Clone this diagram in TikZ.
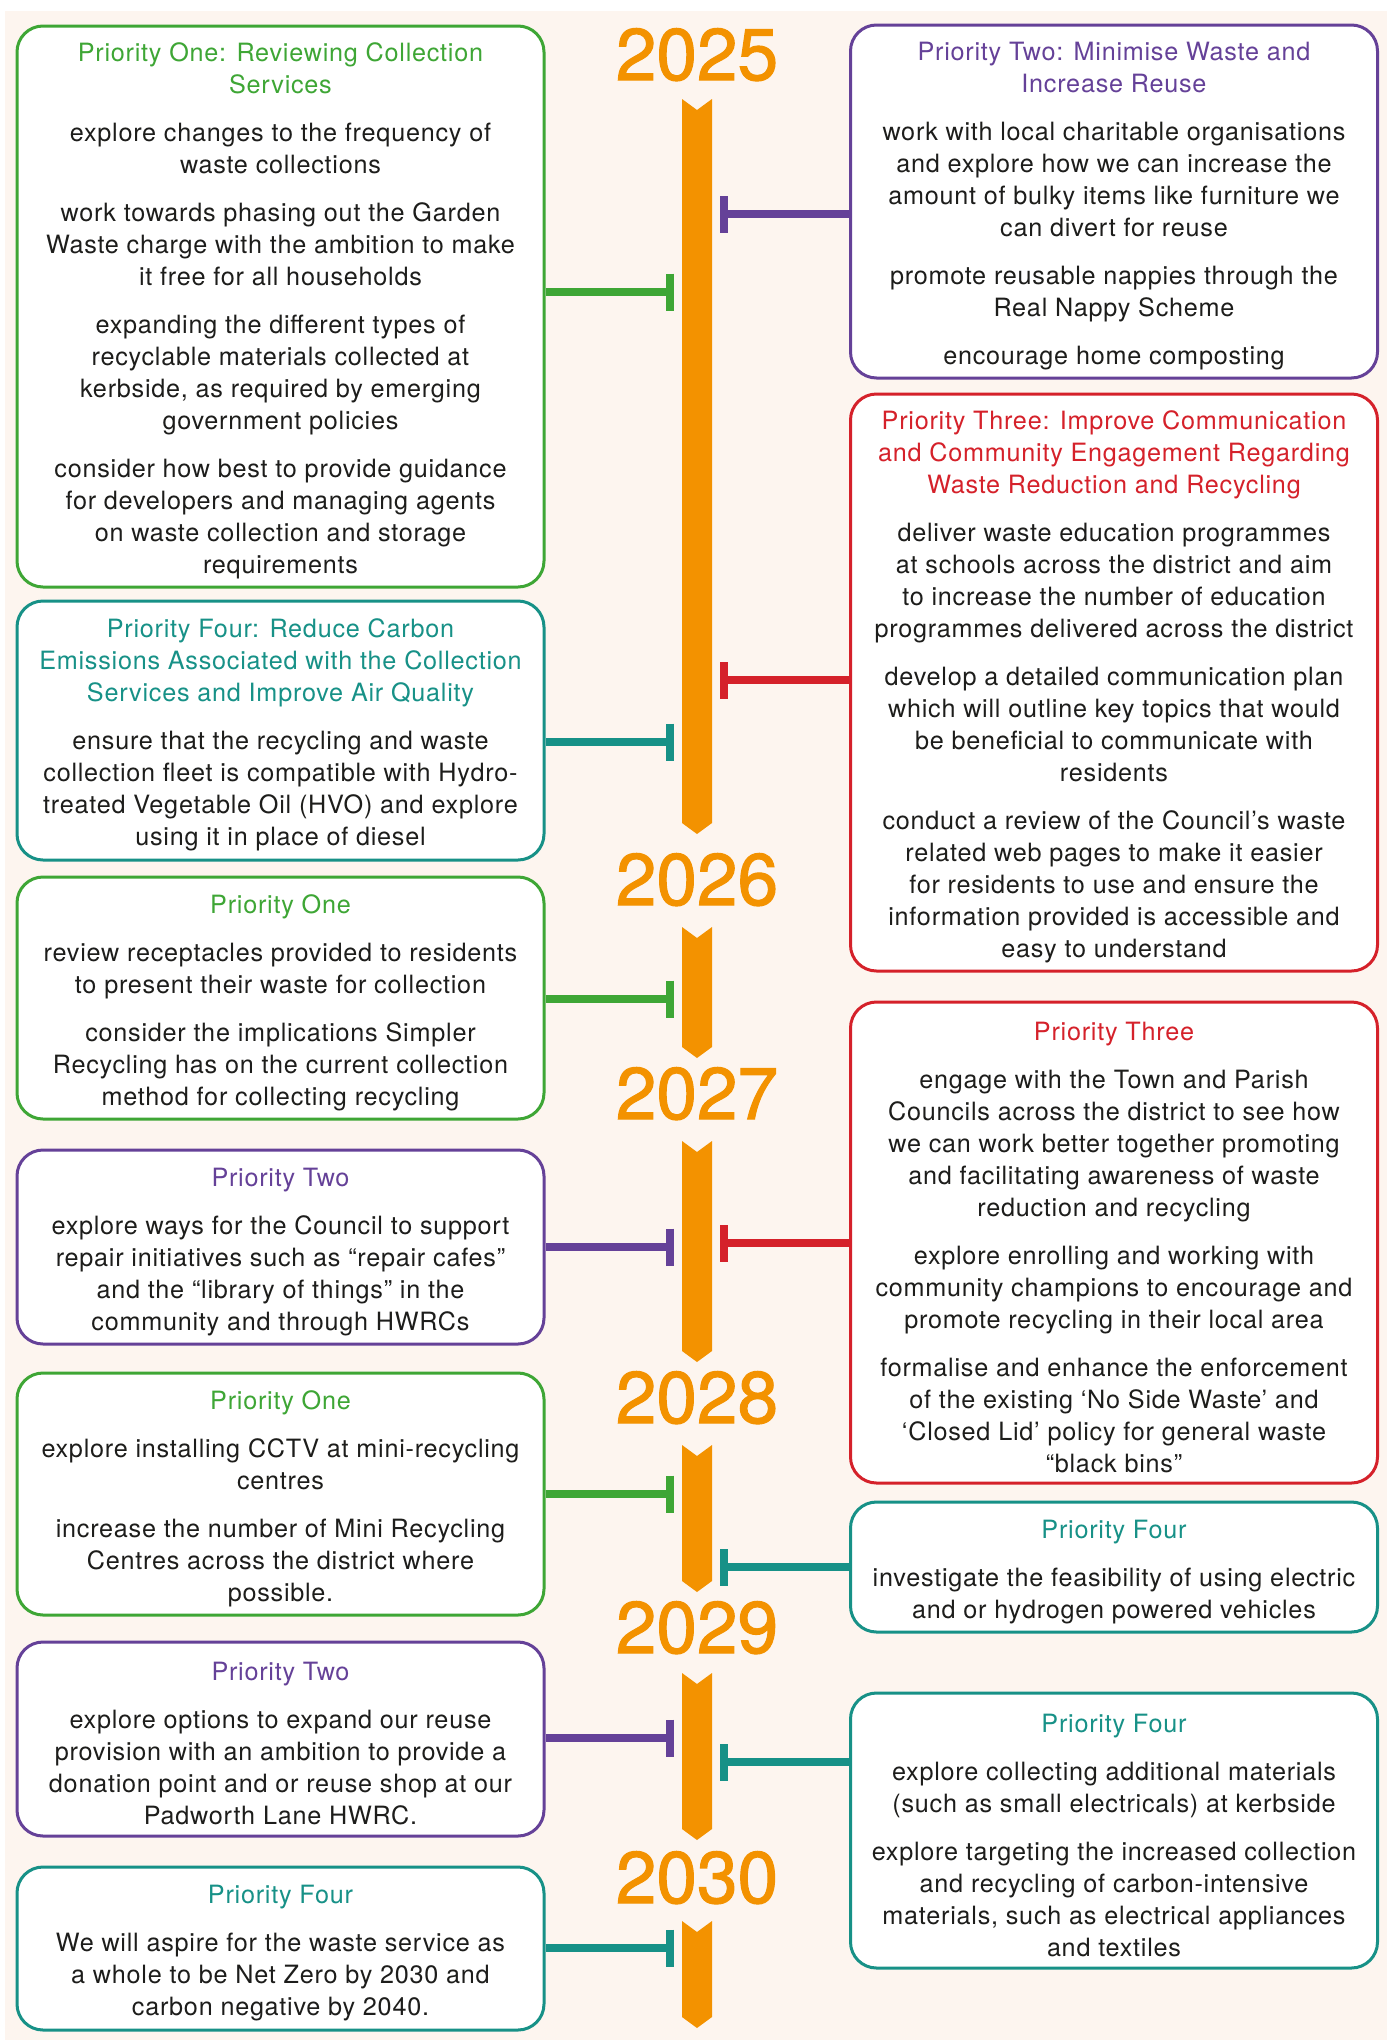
\documentclass[tikz,border=0pt]{standalone}
\usepackage{fontspec}
\setmainfont{TeX Gyre Heros}[LetterSpace=3]
\newfontfamily\yearfont{TeX Gyre Heros}[FakeBold=1.5]
\usetikzlibrary{arrows.meta}

\definecolor{prgreen}{RGB}{62,166,53}
\definecolor{prteal}{RGB}{23,145,135}
\definecolor{prpurple}{RGB}{101,65,152}
\definecolor{prred}{RGB}{213,33,42}
\definecolor{tlorange}{RGB}{243,146,0}
\definecolor{cream}{RGB}{253,245,239}
\definecolor{ink}{RGB}{29,29,27}

% first heading line of a card, with a strut to push the text down a bit
\newcommand{\ttl}[2]{\textcolor{#1}{\rule{0pt}{28pt}#2}}

\tikzset{
	card/.style={draw=#1, line width=3pt, rounded corners=26pt, fill=white, minimum width=527pt, align=center, text=ink, inner sep=0pt, font=\fontsize{25.2}{32}\selectfont},
	link/.style={draw=#1, line width=8pt, -{Bar[width=37pt]}},
	year/.style={text=tlorange, anchor=base, font=\yearfont\fontsize{73}{73}\selectfont},
}

\begin{document}
\begin{tikzpicture}[x=1pt, y=-1pt]
	\useasboundingbox (0,0) rectangle (1391,2040);
	\fill[cream] (5,11) rectangle (1387,2040);

	% timeline
	\fill[tlorange] (682,99) -- (697,110) -- (712,99) -- (712,823) -- (697,834) -- (682,823) -- cycle;
	\fill[tlorange] (682,927) -- (697,938) -- (712,927) -- (712,1047) -- (697,1058) -- (682,1047) -- cycle;
	\fill[tlorange] (682,1141) -- (697,1152) -- (712,1141) -- (712,1351) -- (697,1362) -- (682,1351) -- cycle;
	\fill[tlorange] (682,1445) -- (697,1456) -- (712,1445) -- (712,1581) -- (697,1592) -- (682,1581) -- cycle;
	\fill[tlorange] (682,1673) -- (697,1684) -- (712,1673) -- (712,1829) -- (697,1840) -- (682,1829) -- cycle;
	\fill[tlorange] (682,1921) -- (697,1932) -- (712,1921) -- (712,2017) -- (697,2028) -- (682,2017) -- cycle;

	\node[year] (y25) at (697,80)   {2025};
	\node[year] (y26) at (697,905)  {2026};
	\node[year] (y27) at (697,1119) {2027};
	\node[year] (y28) at (697,1423) {2028};
	\node[year] (y29) at (697,1653) {2029};
	\node[year] (y30) at (697,1903) {2030};

	% left column
	\node[card=prgreen, minimum height=561pt] (g1) at (280.5,306.5) {\ttl{prgreen}{Priority One: Reviewing Collection}\\\textcolor{prgreen}{Services}\\[16pt]
		explore changes to the frequency of\\waste collections\\[16pt]
		work towards phasing out the Garden\\Waste charge with the ambition to make\\it free for all households\\[16pt]
		expanding the different types of\\recyclable materials collected at\\kerbside, as required by emerging\\government policies\\[16pt]
		consider how best to provide guidance\\for developers and managing agents\\on waste collection and storage\\requirements};
	\node[card=prteal, minimum height=259pt] (t1) at (280.5,730.5) {\ttl{prteal}{Priority Four: Reduce Carbon}\\\textcolor{prteal}{Emissions Associated with the Collection}\\\textcolor{prteal}{Services and Improve Air Quality}\\[16pt]
		ensure that the recycling and waste\\collection fleet is compatible with Hydro-\\treated Vegetable Oil (HVO) and explore\\using it in place of diesel};
	\node[card=prgreen, minimum height=242pt] (g2) at (280.5,998) {\ttl{prgreen}{Priority One}\\[16pt]
		review receptacles provided to residents\\to present their waste for collection\\[16pt]
		consider the implications Simpler\\Recycling has on the current collection\\method for collecting recycling};
	\node[card=prpurple, minimum height=194pt] (p2) at (280.5,1247) {\ttl{prpurple}{Priority Two}\\[16pt]
		explore ways for the Council to support\\repair initiatives such as “repair cafes”\\and the “library of things” in the\\community and through HWRCs};
	\node[card=prgreen, minimum height=242pt] (g3) at (280.5,1494) {\ttl{prgreen}{Priority One}\\[16pt]
		explore installing CCTV at mini-recycling\\centres\\[16pt]
		increase the number of Mini Recycling\\Centres across the district where\\possible.};
	\node[card=prpurple, minimum height=194pt] (p3) at (280.5,1739) {\ttl{prpurple}{Priority Two}\\[16pt]
		explore options to expand our reuse\\provision with an ambition to provide a\\donation point and or reuse shop at our\\Padworth Lane HWRC.};
	\node[card=prteal, minimum height=163pt] (t2) at (280.5,1948.5) {\ttl{prteal}{Priority Four}\\[16pt]
		We will aspire for the waste service as\\a whole to be Net Zero by 2030 and\\carbon negative by 2040.};

	% right column
	\node[card=prpurple, minimum height=353pt] (p1) at (1114,201.5) {\ttl{prpurple}{Priority Two: Minimise Waste and}\\\textcolor{prpurple}{Increase Reuse}\\[16pt]
		work with local charitable organisations\\and explore how we can increase the\\amount of bulky items like furniture we\\can divert for reuse\\[16pt]
		promote reusable nappies through the\\Real Nappy Scheme\\[16pt]
		encourage home composting};
	\node[card=prred, minimum height=577pt] (r1) at (1114,682.5) {\ttl{prred}{Priority Three: Improve Communication}\\\textcolor{prred}{and Community Engagement Regarding}\\\textcolor{prred}{Waste Reduction and Recycling}\\[16pt]
		deliver waste education programmes\\at schools across the district and aim\\to increase the number of education\\programmes delivered across the district\\[16pt]
		develop a detailed communication plan\\which will outline key topics that would\\be beneficial to communicate with\\residents\\[16pt]
		conduct a review of the Council’s waste\\related web pages to make it easier\\for residents to use and ensure the\\information provided is accessible and\\easy to understand};
	\node[card=prred, minimum height=481pt] (r2) at (1114,1242.5) {\ttl{prred}{Priority Three}\\[16pt]
		engage with the Town and Parish\\Councils across the district to see how\\we can work better together promoting\\and facilitating awareness of waste\\reduction and recycling\\[16pt]
		explore enrolling and working with\\community champions to encourage and\\promote recycling in their local area\\[16pt]
		formalise and enhance the enforcement\\of the existing ‘No Side Waste’ and\\‘Closed Lid’ policy for general waste\\“black bins”};
	\node[card=prteal, minimum height=130pt] (t3) at (1114,1567) {\ttl{prteal}{Priority Four}\\[16pt]
		investigate the feasibility of using electric\\and or hydrogen powered vehicles};
	\node[card=prteal, minimum height=275pt] (t4) at (1114,1830.5) {\ttl{prteal}{Priority Four}\\[16pt]
		explore collecting additional materials\\(such as small electricals) at kerbside\\[16pt]
		explore targeting the increased collection\\and recycling of carbon-intensive\\materials, such as electrical appliances\\and textiles};

	% ties to the timeline
	\coordinate (lg1) at (674,292);
	\coordinate (lt1) at (674,742);
	\coordinate (lg2) at (674,999);
	\coordinate (lp2) at (674,1247);
	\coordinate (lg3) at (674,1494);
	\coordinate (lp3) at (674,1738);
	\coordinate (lt2) at (674,1948);
	\coordinate (rp1) at (720,214);
	\coordinate (rr1) at (720,680);
	\coordinate (rr2) at (720,1243);
	\coordinate (rt3) at (720,1567);
	\coordinate (rt4) at (720,1762);

	\path[link=prgreen]  (g1.east |- lg1) -- (lg1);
	\path[link=prteal]   (t1.east |- lt1) -- (lt1);
	\path[link=prgreen]  (g2.east |- lg2) -- (lg2);
	\path[link=prpurple] (p2.east |- lp2) -- (lp2);
	\path[link=prgreen]  (g3.east |- lg3) -- (lg3);
	\path[link=prpurple] (p3.east |- lp3) -- (lp3);
	\path[link=prteal]   (t2.east |- lt2) -- (lt2);
	\path[link=prpurple] (p1.west |- rp1) -- (rp1);
	\path[link=prred]    (r1.west |- rr1) -- (rr1);
	\path[link=prred]    (r2.west |- rr2) -- (rr2);
	\path[link=prteal]   (t3.west |- rt3) -- (rt3);
	\path[link=prteal]   (t4.west |- rt4) -- (rt4);
\end{tikzpicture}
\end{document}
